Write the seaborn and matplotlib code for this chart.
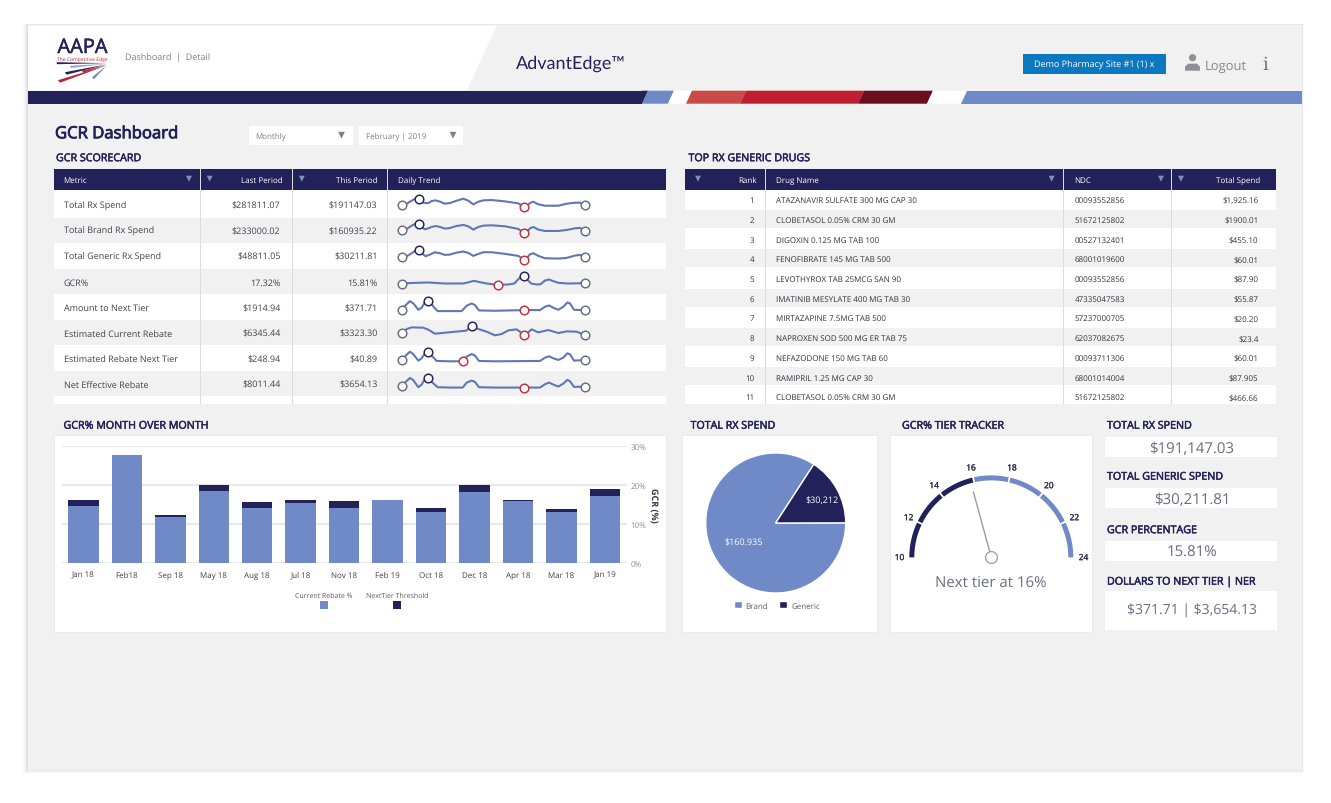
import numpy as np
import pandas as pd
import matplotlib
matplotlib.use("Agg")
import matplotlib.pyplot as plt
import matplotlib.patheffects as pe
from matplotlib.patches import Polygon, Rectangle, Circle
from matplotlib.transforms import offset_copy
import seaborn as sns

# ---------- data ----------
METRICS = ["Total Rx Spend", "Total Brand Rx Spend", "Total Generic Rx Spend", "GCR%",
           "Amount to Next Tier", "Estimated Current Rebate", "Estimated Rebate Next Tier", "Net Effective Rebate"]
LAST_PERIOD = ["$281811.07", "$233000.02", "$48811.05", "17.32%", "$1914.94", "$6345.44", "$248.94", "$8011.44"]
THIS_PERIOD = ["$191147.03", "$160935.22", "$30211.81", "15.81%", "$371.71", "$3323.30", "$40.89", "$3654.13"]

TREND_POS_A = [21,35,50,62,73,82,90,100,110,122,135,150,165,185,205,220,235,250,265,290,330,370,388,395,405,415,430,450,490,515,540,555,570]
TREND_1 = [60,63,72,79,78,67,65,65,71,73,69,63,65,72,78,72,61,69,73,74,70,64,53,55,65,69,61,57,57,63,66,66,58]
TREND_2 = [62,64,74,80,79,68,63,66,70,73,70,65,67,73,76,72,62,70,74,75,72,64,51,54,66,70,62,58,58,61,66,67,59]
TREND_POS_3 = [21,35,50,62,73,82,92,105,120,135,150,165,185,205,220,235,250,265,290,330,370,388,395,405,415,430,450,490,515,540,555,570]
TREND_3 = [57,59,68,76,78,66,59,64,71,68,63,64,70,73,69,60,66,71,71,66,60,48,52,65,68,60,53,52,54,61,63,57]
TREND_POS_4 = [21,60,100,150,205,222,237,255,275,308,340,358,370,380,388,396,408,425,437,450,462,475,490,520,570]
TREND_4 = [54,56,57,54,54,58,62,58,54,50,51,54,67,76,77,67,54,51,52,63,66,61,56,54,55]
TREND_POS_5 = [21,32,45,55,70,80,90,98,108,118,128,170,200,215,230,240,252,300,388,435,450,462,475,490,505,517,525,537,570]
TREND_5 = [52,66,78,71,52,58,76,79,71,58,48,48,48,64,71,66,50,49,51,51,61,65,58,52,61,74,71,52,51]
TREND_POS_6 = [21,35,50,85,100,120,160,213,230,250,275,300,320,340,365,388,396,410,430,460,490,515,545,570]
TREND_6 = [58,71,76,75,69,57,61,66,79,71,63,52,56,67,70,53,58,70,61,68,59,64,63,53]
TREND_POS_7 = [21,32,45,55,70,80,90,98,108,125,165,203,215,230,240,252,300,435,450,462,475,490,505,517,525,537,570]
TREND_7 = [55,68,80,72,53,60,76,79,70,52,51,51,65,73,68,52,51,52,62,66,60,55,62,75,72,53,55]
TREND_POS_8 = [21,32,45,55,70,80,90,98,108,128,170,203,215,230,240,252,300,388,435,450,462,475,490,505,517,525,537,570]
TREND_8 = [53,66,78,71,50,58,76,78,68,50,49,49,64,70,66,50,49,49,49,59,64,58,52,61,72,68,51,52]
TRENDS = [(TREND_POS_A, TREND_1, 73, 388), (TREND_POS_A, TREND_2, 73, 388), (TREND_POS_3, TREND_3, 73, 388),
          (TREND_POS_4, TREND_4, 388, 308), (TREND_POS_5, TREND_5, 98, 388), (TREND_POS_6, TREND_6, 230, 388),
          (TREND_POS_7, TREND_7, 98, 203), (TREND_POS_8, TREND_8, 98, 388)]

RANK = ["1", "2", "3", "4", "5", "6", "7", "8", "9", "10", "11"]
DRUGS = ["ATAZANAVIR SULFATE 300 MG CAP 30", "CLOBETASOL 0.05% CRM 30 GM", "DIGOXIN 0.125 MG TAB 100",
         "FENOFIBRATE 145 MG TAB 500", "LEVOTHYROX TAB 25MCG SAN 90", "IMATINIB MESYLATE 400 MG TAB 30",
         "MIRTAZAPINE 7.5MG TAB 500", "NAPROXEN SOD 500 MG ER TAB 75", "NEFAZODONE 150 MG TAB 60",
         "RAMIPRIL 1.25 MG CAP 30", "CLOBETASOL 0.05% CRM 30 GM"]
NDC = ["00093552856", "51672125802", "00527132401", "68001019600", "00093552856", "47335047583",
       "57237000705", "62037082675", "00093711306", "68001014004", "51672125802"]
SPEND = ["$1,925.16", "$1900.01", "$455.10", "$60.01", "$87.90", "$55.87", "$20.20", "$23.4", "$60.01", "$87.905", "$466.66"]

MONTHS = ["Jan 18", "Feb18", "Sep 18", "May 18", "Aug 18", "Jul 18", "Nov 18", "Feb 19", "Oct 18", "Dec 18", "Apr 18", "Mar 18", "Jan 19"]
CURRENT_REBATE = [14.6, 27.6, 11.7, 18.3, 14.1, 15.4, 14.1, 16.0, 13.0, 18.2, 15.8, 13.0, 17.1]
WITH_THRESHOLD = [16.1, 27.6, 12.2, 19.9, 15.7, 16.0, 15.9, 16.0, 14.1, 20.0, 16.1, 13.9, 18.8]

PIE_LABELS = ["Brand", "Generic"]
PIE_VALUES = [160935, 30212]
GAUGE_TICKS = [10, 12, 14, 16, 18, 20, 22, 24]
GAUGE_NEXT_TIER = 16
GAUGE_VALUE = 15.81

KPI_TITLES = ["TOTAL RX SPEND", "TOTAL GENERIC SPEND", "GCR PERCENTAGE", "DOLLARS TO NEXT TIER | NER"]
KPI_VALUES = ["$191,147.03", "$30,211.81", "15.81%", "$371.71 | $3,654.13"]
KPI_SIZES = [10.6, 10.6, 10.6, 9.8]

# ---------- style ----------
sns.set_theme(style="white")
plt.rcParams["font.family"] = ["Open Sans", "DejaVu Sans"]
plt.rcParams["text.hinting"] = "no_hinting"
plt.rcParams["text.hinting_factor"] = 1
W, H = 1331, 804
DY = 0.7
TXT_DY = 0.6
NAVY = "#232159"
BLUE = "#6f8ac6"
PAGE = "#f1f1f1"
BODY = "#414149"
MUTED = "#7c7c90"
GREYROW = "#f1f1f1"
LINE = "#dcdce0"
SEMI = [pe.withStroke(linewidth=0.35, foreground=NAVY)]

fig = plt.figure(figsize=(W / 100, H / 100), dpi=100, facecolor="white")
bg = fig.add_axes([0, 0, 1, 1], zorder=0)
bg.set_xlim(0, W); bg.set_ylim(H - DY, -DY); bg.axis("off")

def rect(x0, y0, x1, y1, c, z=1, **kw):
    bg.add_patch(Rectangle((x0, y0), x1 - x0, y1 - y0, fc=c, ec="none", zorder=z, **kw))

def poly(pts, c, z=2):
    bg.add_patch(Polygon(pts, closed=True, fc=c, ec="none", zorder=z))

def txt(x, y, s, size=6.3, c=BODY, ha="left", weight="normal", **kw):
    return bg.text(x, y + TXT_DY, s, fontsize=size, color=c, ha=ha, va="center", fontweight=weight, zorder=6,
                   parse_math=False, **kw)

def tri(x, y, c="#7d8fbd", s=3.0):
    poly([(x - s, y - s), (x + s, y - s), (x, y + s)], c, z=6)

def axes_px(x0, y0, x1, y1, **kw):
    return fig.add_axes([x0 / W, 1 - (y1 + DY) / H, (x1 - x0) / W, (y1 - y0) / H], **kw)

# page with soft shadow (stronger to the left and below)
for i, a in zip(range(6, 0, -1), [.008, .012, .016, .024, .034, .05]):
    rect(28 - i, 25 - i * .2, 1302 + i * .3, 770 + i * .7, "black", z=0.5, alpha=a)
rect(28, 25, 1302, 770, PAGE, z=1)

# header
poly([(28, 26), (497, 26), (467, 90.5), (28, 90.5)], "white")
txt(82.5, 47.5, "AAPA", 14.4, NAVY, ha="center", path_effects=SEMI)
txt(82.5, 59, "The Competitive Edge", 3.9, "#c02035", ha="center")
for pts, c in [([(107, 63.5), (56.5, 62.5), (57, 64.5)], NAVY),
               ([(107, 64.2), (70, 66), (71, 68.2)], "#8ea3d4"),
               ([(107, 64.6), (65, 72.5), (66.5, 75)], NAVY),
               ([(106, 66), (58, 80.5), (60, 83)], "#c02035"),
               ([(106, 65.5), (82, 71), (83, 73.2)], "#c02035"),
               ([(107, 65.5), (92, 77.5), (94, 79.5)], BLUE)]:
    poly(pts, c, z=3)
txt(125, 57.5, "Dashboard  |  Detail", 6.8, MUTED)
txt(571, 62.5, "AdvantEdge™", 13.2, NAVY, ha="center", family="Lato")
rect(1023, 54, 1166, 74.5, "#0b78bf", z=3)
txt(1094.5, 64, "Demo Pharmacy Site #1 (1) x", 6.6, "white", ha="center")
bg.add_patch(Circle((1192.6, 58), 3.6, fc="#8f8f97", ec="none", zorder=4))
poly([(1185, 71), (1185, 67), (1188, 64), (1197, 64), (1200, 67), (1200, 71)], "#8f8f97", z=4)
txt(1205, 65.5, "Logout", 9.6, "#85858f")
txt(1265.5, 64, "i", 13, "#6d6d80", ha="center", family="DejaVu Serif")

# colour stripe
SL = 6
rect(28, 91, 642, 104, NAVY, z=2)
for x0, x1, c in [(642, 668, BLUE), (668, 686, "white"), (686, 740, "#c94b47"), (740, 858, "#bf2031"),
                  (858, 927, "#6b0d1f"), (927, 961, "white")]:
    poly([(x0 + SL, 91), (x1 + SL, 91), (x1, 104), (x0, 104)], c)
poly([(642, 104), (648, 91), (642, 91)], NAVY)
poly([(961 + SL, 91), (1302, 91), (1302, 104), (961, 104)], BLUE)

# page title and filters
txt(55, 133.5, "GCR Dashboard", 12.0, NAVY, path_effects=[pe.withStroke(linewidth=0.6, foreground=NAVY)])
for x0, x1, s, tx, tr in [(249, 352.5, "Monthly", 255.5, 341.5), (359, 462.5, "February | 2019", 366, 453)]:
    rect(x0, 126, x1, 145.7, "white", z=3)
    txt(tx, 135.5, s, 5.8, MUTED)
    tri(tr, 135.5, "#7f7f88", 3.4)
TITLE = dict(size=7.7, c=NAVY, path_effects=SEMI)
txt(56, 158, "GCR SCORECARD", **TITLE)
txt(688.5, 158, "TOP RX GENERIC DRUGS", **TITLE)

# scorecard table
rect(54, 190, 666, 404, "white", z=2)
rect(54, 169, 666, 190.5, NAVY, z=3)
ROW0, ROWH = 205, 25.6
for i, (m, l, t) in enumerate(zip(METRICS, LAST_PERIOD, THIS_PERIOD)):
    y = ROW0 + i * ROWH
    if i % 2:
        rect(54, y - 12.6, 666, y + 12.4, GREYROW, z=2.5)
    txt(63.5, y, m); txt(280.5, y, l, ha="right"); txt(377.5, y, t, ha="right")
for x in (200, 292.5, 387):
    rect(x - .5, 169, x + .5, 404, LINE, z=4)
HDR = dict(size=6.1, c="white")
txt(63.5, 180, "Metric", **HDR); txt(283, 180, "Last Period", ha="right", **HDR)
txt(378, 180, "This Period", ha="right", **HDR); txt(398, 180, "Daily Trend", **HDR)
for x in (189, 209.7, 301.8):
    tri(x, 179)

# sparklines
for i, (pos, val, hi, lo) in enumerate(TRENDS):
    cy = ROW0 + i * ROWH
    a = axes_px(395, cy - 20, 595, cy + 20, zorder=5)
    a.patch.set_alpha(0); a.axis("off")
    a.set_xlim(0, 600); a.set_ylim(0, 120)
    sns.lineplot(x=pos, y=val, ax=a, color="#5f77b4", lw=1.5, legend=False, errorbar=None, sort=False)
    a.lines[0].set_solid_joinstyle("round")
    for xp, ec in [(pos[0], "#6a6a84"), (pos[-1], "#6a6a84"), (hi, NAVY), (lo, "#cf2a3c")]:
        yp = val[pos.index(xp)]
        a.plot([xp], [yp], "o", ms=6.2, mfc="white", mec=ec, mew=1.05, zorder=5, clip_on=False)
    a.set_xlabel(""); a.set_ylabel("")

# drug table
rect(685, 190, 1275.5, 404, "white", z=2)
rect(685, 169, 1275.5, 190.7, NAVY, z=3)
for i in range(11):
    y = 199.8 + i * 19.7
    if i % 2:
        rect(685, y - 9.5, 1275.5, y + 8.5, GREYROW, z=2.5)
    txt(754, y, RANK[i], 6.1, "#333339", ha="right")
    txt(776, y, DRUGS[i], 6.1, "#333339")
    txt(1074.5, y, NDC[i], 6.1, "#333339")
    txt(1258.5, y, SPEND[i], 6.1, "#333339", ha="right")
for x in (765, 1063.3, 1171.4):
    rect(x - .5, 169, x + .5, 404, LINE, z=4)
txt(756.5, 180, "Rank", ha="right", **HDR); txt(776, 180, "Drug Name", **HDR)
txt(1074.5, 180, "NDC", **HDR); txt(1260, 180, "Total Spend", ha="right", **HDR)
for x in (698, 1051.6, 1161, 1181):
    tri(x, 179)

# bottom panels
for x0, x1 in [(55, 666), (683, 877), (890.5, 1091.7)]:
    rect(x0 - 1, 435, x1 + 1, 633, "#ebebeb", z=1.5)
    rect(x0, 436, x1, 632, "white", z=2)
txt(63.5, 425.5, "GCR% MONTH OVER MONTH", **TITLE)
txt(690.5, 425.5, "TOTAL RX SPEND", **TITLE)
txt(902, 425.5, "GCR% TIER TRACKER", **TITLE)

# stacked bars
df = pd.DataFrame({"month": MONTHS, "current": CURRENT_REBATE, "total": WITH_THRESHOLD})
ax = axes_px(61.7, 446, 626.6, 563.3, zorder=5)
ax.patch.set_alpha(0)
sns.barplot(data=df, x="month", y="total", color=NAVY, saturation=1, width=0.7, ax=ax, zorder=3, linewidth=0)
sns.barplot(data=df, x="month", y="current", color=BLUE, saturation=1, width=0.7, ax=ax, zorder=4, linewidth=0)
ax.set_xlim(-0.5, 12.5); ax.set_ylim(0, 30)
ax.set_yticks([0, 10, 20, 30]); ax.set_yticklabels(["0%", "10%", "20%", "30%"])
ax.yaxis.tick_right()
ax.yaxis.set_label_position("right")
ax.tick_params(axis="y", length=0, pad=2.8, labelsize=6, labelcolor="#8b8ba0")
ax.tick_params(axis="x", length=0, pad=5.5, labelsize=6, labelcolor=BODY)
for t in ax.get_yticklabels():
    t.set_transform(offset_copy(t.get_transform(), fig=fig, y=0.2, units="points"))
ax.grid(axis="y", color="#e8e8e8", lw=1.5, zorder=0)
ax.set_axisbelow(True)
sns.despine(ax=ax, left=True, bottom=True, right=True, top=True)
ax.set_xlabel("")
ax.set_ylabel("GCR (%)", rotation=270, fontsize=6.5, color="#333340", fontweight="bold", labelpad=8.5)
for s, x, c in [("Current Rebate %", 324, BLUE), ("NextTier Threshold", 397, NAVY)]:
    txt(x, 594.5, s, 5.2, "#5a5a68", ha="center")
    rect(x - 4, 601.7, x + 4, 609.7, c, z=3)

# pie
pa = axes_px(775.7 - 77, 523.3 - 77, 775.7 + 77, 523.3 + 77, zorder=5)
pa.patch.set_alpha(0)
wedges, _ = pa.pie(PIE_VALUES, colors=[BLUE, NAVY], startangle=57, counterclock=True, radius=1)
pa.set_xlim(-1.1, 1.1); pa.set_ylim(-1.1, 1.1)
for x, y, s in [(743.4, 543.3, "$160.935"), (822, 500.7, "$30,212")]:
    fig.text(x / W, 1 - y / H, s, fontsize=6.2, color="white", ha="center", va="center", zorder=20, parse_math=False)
fig.legend(wedges, PIE_LABELS, loc="center", bbox_to_anchor=(777 / W, 1 - 606.5 / H), ncol=2, frameon=False,
           fontsize=5.7, handlelength=1.0, handleheight=1.0, handletextpad=0.5, columnspacing=1.4,
           labelcolor="#5a5a68")

# gauge
ga = axes_px(991.3 - 100, 557.7 - 100, 991.3 + 100, 557.7 + 50, zorder=5)
ga.patch.set_alpha(0); ga.axis("off")
ga.set_xlim(-100, 100); ga.set_ylim(-50, 100)
def ang(v):
    return np.pi * (1 - (v - GAUGE_TICKS[0]) / (GAUGE_TICKS[-1] - GAUGE_TICKS[0]))
R = 79.5
for a0, a1 in zip(GAUGE_TICKS[:-1], GAUGE_TICKS[1:]):
    th = np.linspace(ang(a0 + (0.05 if a0 > 10 else 0)), ang(a1 - (0.05 if a1 < 24 else 0)), 40)
    ga.plot(R * np.cos(th), R * np.sin(th), color=NAVY if a1 <= GAUGE_NEXT_TIER else BLUE, lw=3.6,
            solid_capstyle="butt")
for v in GAUGE_TICKS:
    ga.text(92 * np.cos(ang(v)), 92 * np.sin(ang(v)) - 0.6, str(v), fontsize=6.0, color="#33334a", ha="center",
            va="center", path_effects=[pe.withStroke(linewidth=0.25, foreground="#33334a")])
th = ang(GAUGE_VALUE)
ga.plot([6 * np.cos(th), 68 * np.cos(th)], [6 * np.sin(th), 68 * np.sin(th)], color="#9a9aa2", lw=1)
ga.plot([0], [0], "o", ms=8.5, mfc="white", mec="#9a9aa2", mew=0.9)
txt(991, 581.5, f"Next tier at {GAUGE_NEXT_TIER}%", 10.6, "#6b6b85", ha="center")

# KPI boxes
for title, value, size, ty, y0, y1, vy in zip(KPI_TITLES, KPI_VALUES, KPI_SIZES, [425.5, 476.5, 530, 581.5],
                                              [437, 488, 541, 591], [457.7, 508.7, 561.7, 630.3],
                                              [447.7, 498.7, 551.7, 610]):
    txt(1107, ty, title, **TITLE)
    rect(1105, y0, 1277, y1, "white", z=2)
    txt(1192, vy, value, size, "#6b6b85", ha="center")

fig.savefig("out.png", dpi=100, facecolor="white")
